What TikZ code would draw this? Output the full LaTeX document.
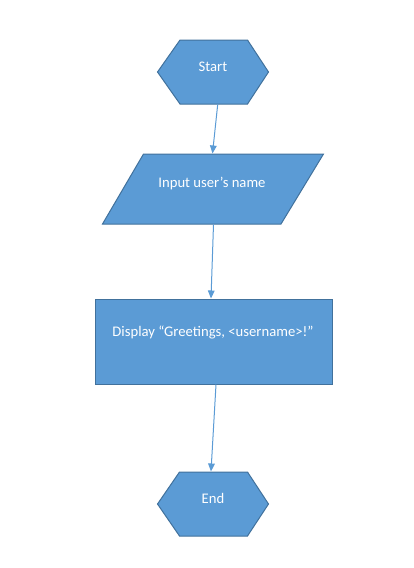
\documentclass[tikz,border=0pt]{standalone}
\usepackage{fontspec}
\setmainfont{Carlito}
\usetikzlibrary{arrows.meta}
\definecolor{boxfill}{HTML}{5B9BD5}
\definecolor{boxline}{HTML}{41719C}
\begin{document}
\begin{tikzpicture}[x=0.75pt,y=-0.75pt,
  shapebox/.style={fill=boxfill,draw=boxline,line width=0.75pt,line join=miter},
  label/.style={text=white,font=\fontsize{11pt}{13pt}\selectfont,inner sep=0pt},
  conn/.style={draw=boxfill,line width=0.75pt,-{Triangle[length=6pt,width=5pt]}}]
\useasboundingbox (0,0) rectangle (414,568);
% Start hexagon
\draw[shapebox] (157.5,72) -- (180,40) -- (247.5,40) -- (268.5,72) -- (247.5,104) -- (180,104) -- cycle;
\node[label] (start) at (213,67) {Start};
% Parallelogram
\draw[shapebox] (143.5,154) -- (323.5,154) -- (281,224) -- (102.5,224) -- cycle;
\node[label] (input) at (212,184) {Input user’s name};
% Rectangle
\draw[shapebox] (95,299) rectangle (332,384);
\node[label] (disp) at (213,332) {Display “Greetings, <username>!”};
% End hexagon
\draw[shapebox] (157.5,504) -- (179.5,472) -- (247.5,472) -- (268.5,504) -- (247.5,536) -- (179.5,536) -- cycle;
\node[label] (end) at (213,498) {End};
% connector endpoints
\coordinate (s-b) at (217.7,104.5);
\coordinate (i-t) at (212.5,153.5);
\coordinate (i-b) at (213.5,224.5);
\coordinate (d-t) at (211,298.5);
\coordinate (d-b) at (216,384.5);
\coordinate (e-t) at (211,471.5);
\draw[conn] (s-b) -- (i-t);
\draw[conn] (i-b) -- (d-t);
\draw[conn] (d-b) -- (e-t);
\end{tikzpicture}
\end{document}
